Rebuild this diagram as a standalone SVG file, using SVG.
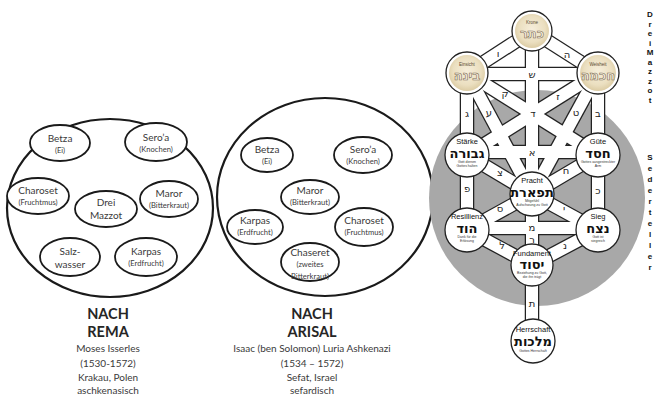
<svg xmlns="http://www.w3.org/2000/svg" width="655" height="396" viewBox="0 0 655 396">
<defs>
<radialGradient id="parch" cx="50%" cy="45%" r="55%">
<stop offset="0" stop-color="#f6eedb"/>
<stop offset="0.7" stop-color="#ebdfc0"/>
<stop offset="1" stop-color="#dccca4"/>
</radialGradient>
</defs>
<style>
.plate{fill:#fff;stroke:#1a1a1a;stroke-width:2.2}
.dish{fill:#fff;stroke:#1a1a1a;stroke-width:1.8}
.lbl{font-family:Lato,"Liberation Sans",sans-serif;font-size:10px;fill:#3a3a3a;text-anchor:middle}
.sub{font-family:Lato,"Liberation Sans",sans-serif;font-size:7.6px;fill:#3a3a3a;text-anchor:middle}
.ttl{font-family:Lato,"Liberation Sans",sans-serif;font-size:14.5px;font-weight:bold;fill:#262626;text-anchor:middle}
.inf{font-family:Lato,"Liberation Sans",sans-serif;font-size:10px;fill:#3a3a3a;text-anchor:middle}
.barO{stroke:#222;stroke-width:14.5;fill:none;stroke-linecap:butt}
.barI{stroke:#fff;stroke-width:12;fill:none;stroke-linecap:butt}
.seph{fill:#fff;stroke:#222;stroke-width:1.3}
.let{font-family:"DejaVu Sans","Liberation Sans",sans-serif;font-size:10px;fill:#222;text-anchor:middle}
.heb{font-family:"DejaVu Sans","Liberation Sans",sans-serif;font-weight:bold;font-size:13px;fill:#111;text-anchor:middle}
.hebT{font-family:"DejaVu Sans","Liberation Sans",sans-serif;font-weight:bold;font-size:13px;fill:#f8f2e2;stroke:#7d6c52;stroke-width:0.6;text-anchor:middle}
.de{font-family:"Liberation Sans",Arial,sans-serif;font-size:7.5px;fill:#111;text-anchor:middle}
.deT{font-family:"Liberation Sans",Arial,sans-serif;font-size:4.5px;fill:#5a4a30;text-anchor:middle}
.tiny{font-family:"Liberation Sans",Arial,sans-serif;font-size:3.5px;fill:#333;text-anchor:middle}
.vert{font-family:"Liberation Sans",Arial,sans-serif;font-size:8px;font-weight:bold;fill:#111;text-anchor:middle}
</style>

<!-- Plate 1: nach Rema -->
<g id="plate-rema">
<ellipse class="plate" cx="110" cy="208" rx="103" ry="89"/>
<g id="rema-betza"><ellipse class="dish" cx="60" cy="143" rx="30" ry="18"/><text class="lbl" x="60" y="142">Betza</text><text class="sub" x="60" y="153">(Ei)</text></g>
<g id="rema-seroa"><ellipse class="dish" cx="156" cy="142" rx="31" ry="19"/><text class="lbl" x="156" y="141">Sero’a</text><text class="sub" x="156" y="152">(Knochen)</text></g>
<g id="rema-charoset"><ellipse class="dish" cx="38" cy="196" rx="31" ry="18"/><text class="lbl" x="38" y="194">Charoset</text><text class="sub" x="38" y="205">(Fruchtmus)</text></g>
<g id="rema-mazzot"><ellipse class="dish" cx="106" cy="209" rx="31" ry="18"/><text class="lbl" x="106" y="206">Drei</text><text class="lbl" x="106" y="219">Mazzot</text></g>
<g id="rema-maror"><ellipse class="dish" cx="169" cy="199" rx="29" ry="18"/><text class="lbl" x="169" y="197">Maror</text><text class="sub" x="169" y="208">(Bitterkraut)</text></g>
<g id="rema-salz"><ellipse class="dish" cx="70" cy="257" rx="30" ry="19"/><text class="lbl" x="70" y="255">Salz-</text><text class="lbl" x="70" y="268">wasser</text></g>
<g id="rema-karpas"><ellipse class="dish" cx="146" cy="257" rx="31" ry="19"/><text class="lbl" x="146" y="255">Karpas</text><text class="sub" x="146" y="266">(Erdfrucht)</text></g>
</g>
<g id="title-rema">
<text class="ttl" x="108" y="319">NACH</text>
<text class="ttl" x="108" y="337">REMA</text>
<text class="inf" x="108" y="352">Moses Isserles</text>
<text class="inf" x="108" y="367">(1530-1572)</text>
<text class="inf" x="108" y="381">Krakau, Polen</text>
<text class="inf" x="108" y="394">aschkenasisch</text>
</g>

<!-- Plate 2: nach Arisal -->
<g id="plate-arisal">
<ellipse class="plate" cx="325" cy="197" rx="108" ry="99"/>
<g id="ari-betza"><ellipse class="dish" cx="267" cy="155" rx="26" ry="17"/><text class="lbl" x="267" y="153">Betza</text><text class="sub" x="267" y="164">(Ei)</text></g>
<g id="ari-seroa"><ellipse class="dish" cx="363" cy="155" rx="29" ry="18"/><text class="lbl" x="363" y="153">Sero’a</text><text class="sub" x="363" y="164">(Knochen)</text></g>
<g id="ari-maror"><ellipse class="dish" cx="310" cy="197" rx="29" ry="17"/><text class="lbl" x="310" y="194">Maror</text><text class="sub" x="310" y="205">(Bitterkraut)</text></g>
<g id="ari-karpas"><ellipse class="dish" cx="255" cy="227" rx="28" ry="17"/><text class="lbl" x="255" y="224">Karpas</text><text class="sub" x="255" y="235">(Erdfrucht)</text></g>
<g id="ari-charoset"><ellipse class="dish" cx="364" cy="227" rx="29" ry="19"/><text class="lbl" x="364" y="224">Charoset</text><text class="sub" x="364" y="235">(Fruchtmus)</text></g>
<g id="ari-chaseret"><ellipse class="dish" cx="310" cy="262" rx="29" ry="19"/><text class="lbl" x="310" y="256">Chaseret</text><text class="sub" x="310" y="267">(zweites</text><text class="sub" x="310" y="279">Bitterkraut)</text></g>
</g>
<g id="title-arisal">
<text class="ttl" x="312" y="319">NACH</text>
<text class="ttl" x="312" y="337">ARISAL</text>
<text class="inf" x="312" y="352">Isaac (ben Solomon) Luria Ashkenazi</text>
<text class="inf" x="312" y="367">(1534 – 1572)</text>
<text class="inf" x="312" y="381">Sefat, Israel</text>
<text class="inf" x="312" y="394">sefardisch</text>
</g>

<!-- Tree of life -->
<circle id="seder-disc" cx="537" cy="198" r="108" fill="#a8a8a8"/>

<g id="paths">
<g class="barO">
<line x1="532" y1="31" x2="467" y2="73"/><line x1="532" y1="31" x2="598" y2="73"/>
<line x1="467" y1="74" x2="598" y2="74"/><line x1="532" y1="31" x2="532" y2="194"/>
<line x1="467" y1="73" x2="467" y2="155"/><line x1="598" y1="73" x2="598" y2="155"/>
<line x1="467" y1="73" x2="532" y2="194"/><line x1="598" y1="73" x2="532" y2="194"/>
<line x1="467" y1="73" x2="598" y2="155"/><line x1="598" y1="73" x2="467" y2="155"/>
<line x1="467" y1="152" x2="598" y2="152"/><line x1="467" y1="155" x2="532" y2="194"/>
<line x1="598" y1="155" x2="532" y2="194"/><line x1="467" y1="155" x2="467" y2="230"/>
<line x1="598" y1="155" x2="598" y2="230"/><line x1="532" y1="194" x2="467" y2="230"/>
<line x1="532" y1="194" x2="598" y2="230"/><line x1="467" y1="228" x2="598" y2="228"/>
<line x1="532" y1="194" x2="532" y2="265"/><line x1="467" y1="230" x2="532" y2="265"/>
<line x1="598" y1="230" x2="532" y2="265"/><line x1="532" y1="265" x2="532" y2="341"/>
</g>
<g class="barI">
<line x1="532" y1="31" x2="467" y2="73"/><line x1="532" y1="31" x2="598" y2="73"/>
<line x1="467" y1="74" x2="598" y2="74"/><line x1="532" y1="31" x2="532" y2="194"/>
<line x1="467" y1="73" x2="467" y2="155"/><line x1="598" y1="73" x2="598" y2="155"/>
<line x1="467" y1="73" x2="532" y2="194"/><line x1="598" y1="73" x2="532" y2="194"/>
<line x1="467" y1="73" x2="598" y2="155"/><line x1="598" y1="73" x2="467" y2="155"/>
<line x1="467" y1="152" x2="598" y2="152"/><line x1="467" y1="155" x2="532" y2="194"/>
<line x1="598" y1="155" x2="532" y2="194"/><line x1="467" y1="155" x2="467" y2="230"/>
<line x1="598" y1="155" x2="598" y2="230"/><line x1="532" y1="194" x2="467" y2="230"/>
<line x1="532" y1="194" x2="598" y2="230"/><line x1="467" y1="228" x2="598" y2="228"/>
<line x1="532" y1="194" x2="532" y2="265"/><line x1="467" y1="230" x2="532" y2="265"/>
<line x1="598" y1="230" x2="532" y2="265"/><line x1="532" y1="265" x2="532" y2="341"/>
</g>
<g id="path-letters">
<text class="let" x="498" y="57">ו</text><text class="let" x="567" y="58">ה</text>
<text class="let" x="532" y="78">ש</text><text class="let" x="533" y="117">ד</text>
<text class="let" x="467" y="117">ג</text><text class="let" x="598" y="117">ב</text>
<text class="let" x="489" y="116">ע</text><text class="let" x="576" y="116">ט</text>
<text class="let" x="505" y="97">ק</text><text class="let" x="558" y="100">ז</text>
<text class="let" x="532" y="156">א</text><text class="let" x="500" y="176">צ</text>
<text class="let" x="566" y="174">ח</text><text class="let" x="467" y="192">פ</text>
<text class="let" x="598" y="194">כ</text><text class="let" x="500" y="212">ס</text>
<text class="let" x="564" y="212">י</text><text class="let" x="532" y="231" font-size="9">מ</text>
<text class="let" x="532" y="243" font-size="8">ר</text><text class="let" x="502" y="249">ל</text>
<text class="let" x="565" y="249">נ</text><text class="let" x="532" y="307">ת</text>
</g>
</g>

<g id="keter"><circle class="seph" cx="532" cy="31" r="20"/><circle cx="532" cy="31" r="17" fill="url(#parch)"/><text class="deT" x="532" y="24">Krone</text><text class="hebT" x="532" y="38">כתר</text></g>
<g id="binah"><circle class="seph" cx="467" cy="73" r="21"/><circle cx="467" cy="73" r="18" fill="url(#parch)"/><text class="deT" x="467" y="66">Einsicht</text><text class="hebT" x="467" y="80">בינה</text></g>
<g id="chokhmah"><circle class="seph" cx="598" cy="73" r="21"/><circle cx="598" cy="73" r="18" fill="url(#parch)"/><text class="deT" x="598" y="66">Weisheit</text><text class="hebT" x="598" y="80">חכמה</text></g>
<g id="gevurah"><circle class="seph" cx="467" cy="155" r="22"/><text class="de" x="467" y="144">Stärke</text><text class="heb" x="467" y="158">גבורה</text><text class="tiny" x="467" y="163">Gott dienen</text><text class="tiny" x="467" y="167">Gottes halten</text></g>
<g id="chesed"><circle class="seph" cx="598" cy="155" r="22"/><text class="de" x="598" y="144">Güte</text><text class="heb" x="598" y="158">חסד</text><text class="tiny" x="598" y="163">Gottes ausgestreckter</text><text class="tiny" x="598" y="167">Arm</text></g>
<g id="tiferet"><circle class="seph" cx="532" cy="194" r="22"/><text class="de" x="532" y="183">Pracht</text><text class="heb" x="532" y="197">תפארת</text><text class="tiny" x="532" y="202">Mitgefühl</text><text class="tiny" x="532" y="206">Aufschwung zu Gott</text></g>
<g id="hod"><circle class="seph" cx="467" cy="230" r="22"/><text class="de" x="467" y="219">Resillienz</text><text class="heb" x="467" y="233">הוד</text><text class="tiny" x="467" y="238">Dank für die</text><text class="tiny" x="467" y="242">Erlösung</text></g>
<g id="netzach"><circle class="seph" cx="598" cy="230" r="22"/><text class="de" x="598" y="219">Sieg</text><text class="heb" x="598" y="233">נצח</text><text class="tiny" x="598" y="238">Gott ist</text><text class="tiny" x="598" y="242">siegreich</text></g>
<g id="yesod"><circle class="seph" cx="532" cy="265" r="21"/><text class="de" x="532" y="256">Fundament</text><text class="heb" x="532" y="269">יסוד</text><text class="tiny" x="532" y="274">Beziehung zu Gott,</text><text class="tiny" x="532" y="278">die ihn trägt</text></g>
<g id="malkhut"><circle class="seph" cx="533" cy="341" r="22"/><text class="de" x="533" y="332">Herrschaft</text><text class="heb" x="533" y="346">מלכות</text><text class="tiny" x="533" y="352">Gottes Herrschaft</text></g>

<g id="vertical-labels">
<text class="vert"><tspan x="650" y="17">D</tspan><tspan x="650" y="26.5">r</tspan><tspan x="650" y="36">e</tspan><tspan x="650" y="45.5">i</tspan><tspan x="650" y="55">M</tspan><tspan x="650" y="64.5">a</tspan><tspan x="650" y="74">z</tspan><tspan x="650" y="83.5">z</tspan><tspan x="650" y="93">o</tspan><tspan x="650" y="102.5">t</tspan></text>
<text class="vert"><tspan x="650" y="160">S</tspan><tspan x="650" y="171">e</tspan><tspan x="650" y="182">d</tspan><tspan x="650" y="193">e</tspan><tspan x="650" y="204">r</tspan><tspan x="650" y="215">t</tspan><tspan x="650" y="226">e</tspan><tspan x="650" y="237">l</tspan><tspan x="650" y="248">l</tspan><tspan x="650" y="259">e</tspan><tspan x="650" y="270">r</tspan></text>
</g>
</svg>
